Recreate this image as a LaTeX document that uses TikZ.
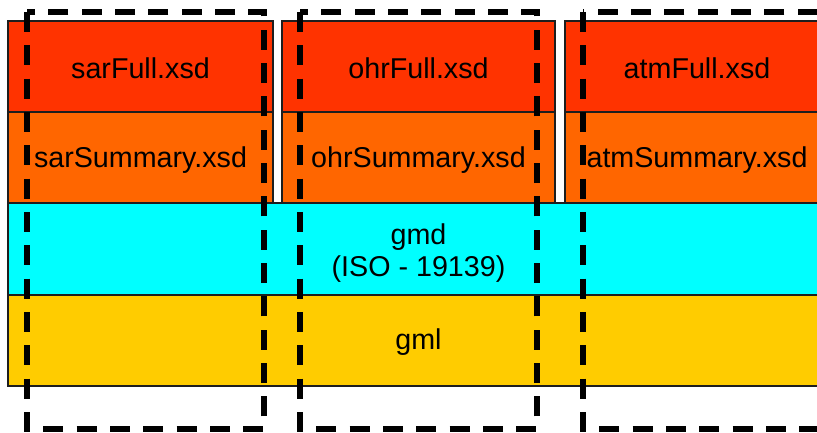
\documentclass[tikz,border=0pt]{standalone}
\usepackage{fontspec}
\setmainfont{Liberation Sans}
\definecolor{fullc}{HTML}{FF3300}
\definecolor{summc}{HTML}{FF6600}
\definecolor{gmdc}{HTML}{00FFFF}
\definecolor{gmlc}{HTML}{FFCC00}
\definecolor{edgec}{HTML}{1E1E1E}

\begin{document}
\begin{tikzpicture}[x=0.75pt, y=-0.75pt,
  font=\fontsize{21.5}{24}\selectfont,
  layer/.style={draw=edgec, line width=0.8pt},
  group/.style={black, line width=3.8pt, dash pattern=on 15pt off 10pt}]
  \clip (0,0) rectangle (817,432);
  % schema columns
  \filldraw[layer, fill=fullc] (8,21) rectangle (273,112);
  \filldraw[layer, fill=summc] (8,112) rectangle (273,203);
  \filldraw[layer, fill=fullc] (282,21) rectangle (555,112);
  \filldraw[layer, fill=summc] (282,112) rectangle (555,203);
  \filldraw[layer, fill=fullc] (565,21) rectangle (829,112);
  \filldraw[layer, fill=summc] (565,112) rectangle (829,203);
  % shared layers
  \filldraw[layer, fill=gmdc] (8,203) rectangle (829,295);
  \filldraw[layer, fill=gmlc] (8,295) rectangle (829,386);
  % groups
  \draw[group] (27,12) rectangle (264,429);
  \draw[group] (300,12) rectangle (537,429);
  \draw[group] (583,12) rectangle (850,429);
  % labels
  \node (sarfull) at (140.5,68.5) {sarFull.xsd};
  \node (sarsumm) at (140.5,160) {sarSummary.xsd};
  \node (ohrfull) at (418.5,68.5) {ohrFull.xsd};
  \node (ohrsumm) at (418.5,160) {ohrSummary.xsd};
  \node (atmfull) at (697,68.5) {atmFull.xsd};
  \node (atmsumm) at (697,160) {atmSummary.xsd};
  \node[align=center] (gmd) at (418.5,253) {gmd\\(ISO - 19139)};
  \node (gml) at (418.5,342.5) {gml};
\end{tikzpicture}
\end{document}
